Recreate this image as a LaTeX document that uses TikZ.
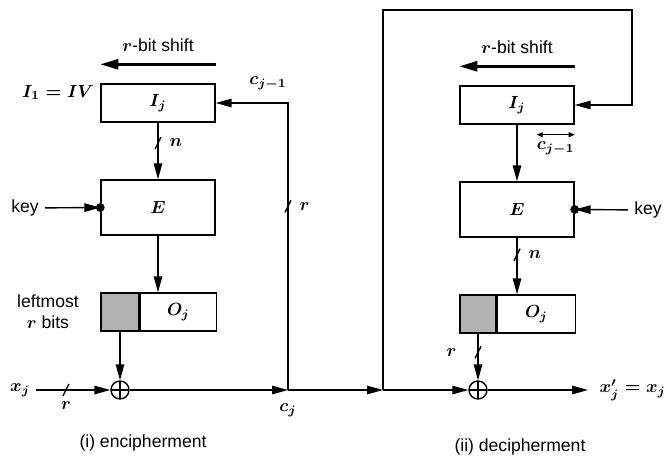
\documentclass[tikz,border=0pt]{standalone}
\usepackage{fontspec}
\setmainfont{Liberation Sans}
\usetikzlibrary{positioning, arrows.meta}
\tikzset{
every picture/.style={
line width=0.8pt
},
bitmark/.pic={\draw[-] (-3,6) -- (3,-6);}
}

\begin{document}
\boldmath
\begin{tikzpicture}[x=0.02cm, y=-0.02cm,
>={Triangle[length=3.2mm, width=1.7mm]},
block/.style = {rectangle, draw=black, minimum width=2.28cm, minimum height=0.76cm, inner sep=0pt},
rbits/.style = {block, fill=gray!60, minimum width=0.76cm},
xor/.style = {circle, draw, minimum size=0.36cm, inner sep=0pt,
  path picture={\draw (path picture bounding box.north) -- (path picture bounding box.south)
  (path picture bounding box.west) -- (path picture bounding box.east);}},
shiftarrow/.style = {-{Triangle[length=3.6mm, width=2mm]}, line width=1.6pt},
node distance = 0.5cm]

  \useasboundingbox (0,0) rectangle (672,457);

  % (i) encipherment
  \node[block] (I1) at (158,103) {$I_j$};
  \node[block, minimum height=1.1cm] (E1) at (158,207.5) {$E$};
  \node[rbits] (s1) at (120,312) {};
  \node[block, minimum width=1.52cm, right=0pt of s1] (O1) {$O_j$};
  \node[xor] (x1) at (120,390) {};

  \node[anchor=east] (iv) at ([yshift=-0.18cm]I1.north west) {$I_1=IV$};
  \node (k1) at (25,208) {key};
  \node[align=center, left=0.3cm of s1] (lm) {leftmost\\$r$ bits};
  \node (xj) at (20,390) {$x_j$};
  \coordinate (j1) at (288,390);
  \node[below=0.15cm of j1] (cj) {$c_j$};
  \node (cj1) at (268,83) {$c_{j-1}$};

  \draw[shiftarrow] ([yshift=0.38cm]I1.north east) -- ([yshift=0.38cm]I1.north west)
    node[midway, above=0.1cm] {$r$-bit shift};
  \draw[->] (I1) -- (E1) pic[pos=0.36] {bitmark} node[pos=0.36, right=0.1cm] {$n$};
  \draw[->] (E1) -- (E1.south |- O1.north);
  \draw[->] (s1) -- (x1);
  \draw[->] (xj) -- (x1) pic[pos=0.4] {bitmark} node[pos=0.4, below=0.1cm] {$r$};
  \draw[->] (x1) -- (j1);
  \draw[->] (j1) |- (I1.east) pic[pos=0.32] {bitmark} node[pos=0.32, right=0.1cm] {$r$};
  \draw[->] (k1) -- (E1.west);
  \fill (E1.west) circle (2.5pt);

  % (ii) decipherment
  \node[block] (I2) at (517,105) {$I_j$};
  \node[block, minimum height=1.1cm] (E2) at (517,209.5) {$E$};
  \node[rbits, minimum width=0.72cm] (s2) at (478,314) {};
  \node[block, minimum width=1.56cm, right=0pt of s2] (O2) {$O_j$};
  \node[xor] (x2) at (478,390) {};

  \node (k2) at (648,210) {key};
  \coordinate (j2) at (383,390);
  \coordinate (t1) at (383,10);
  \coordinate (t2) at (632,10);
  \coordinate (out2) at (588,390);
  \node[right=0.1cm of out2] (xo) {$x'_j=x_j$};

  \draw[->] (j1) -- (j2);
  \draw[->] (j2) -- (x2);
  \draw[->] (j2) -- (t1) -- (t2) |- (I2.east);
  \draw[->] (x2) -- (out2);
  \draw[shiftarrow] ([yshift=0.38cm]I2.north east) -- ([yshift=0.38cm]I2.north west)
    node[midway, above=0.1cm] {$r$-bit shift};
  \draw[->] (I2) -- (E2);
  \draw[->] (E2) -- (E2.south |- O2.north) pic[pos=0.3] {bitmark} node[pos=0.3, right=0.1cm] {$n$};
  \draw[->] (s2) -- (x2) pic[pos=0.4] {bitmark} node[pos=0.4, left=0.3cm] {$r$};
  \draw[->] (k2) -- (E2.east);
  \fill (E2.east) circle (2.5pt);
  \draw[{Triangle[length=1.2mm, width=1mm]}-{Triangle[length=1.2mm, width=1mm]}, line width=0.6pt]
    ([xshift=-0.76cm, yshift=-0.2cm]I2.south east) -- ([yshift=-0.2cm]I2.south east)
    node[midway, below=0.02cm] {$c_{j-1}$};

  \node (cap1) at (143,443) {(i) encipherment};
  \node (cap2) at (520,447) {(ii) decipherment};

\end{tikzpicture}
\end{document}
